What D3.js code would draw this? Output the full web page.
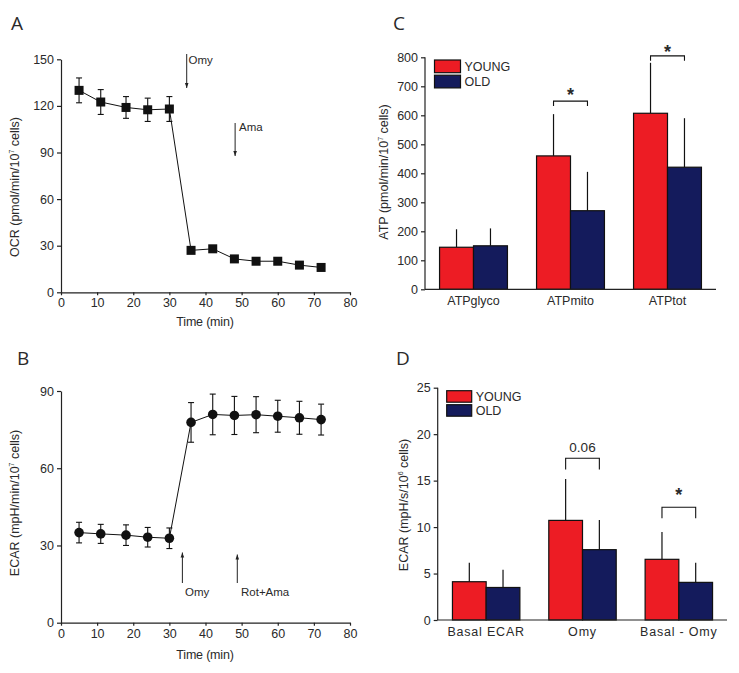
<!DOCTYPE html>
<html><head><meta charset="utf-8">
<script src="https://cdn.jsdelivr.net/npm/d3@7"></script>
<style>
body{margin:0;background:#fff}
</style></head>
<body><svg id="c" width="739" height="673"></svg>
<script>
// ---- data ----
const timePts = [5, 11, 18, 24, 30, 36, 42, 48, 54, 60, 66, 72];
const ocr = [130, 122.5, 119, 117.5, 118, 27, 28, 21.5, 20, 20, 17.5, 16];
const ocrErr = [8, 8, 7, 7.5, 8, 1.5, 1.5, 1.5, 1.5, 1.5, 1.5, 1.5];
const ecar = [35, 34.5, 34, 33.2, 32.8, 77.8, 80.9, 80.5, 80.8, 80.2, 79.6, 78.9];
const ecarErr = [4, 3.7, 4, 3.8, 4, 7.7, 7.9, 7.4, 7, 6.2, 6.4, 6];
const timeTicks = [0, 10, 20, 30, 40, 50, 60, 70, 80];
const ocrTicks = [0, 30, 60, 90, 120, 150];
const ecarTicks = [0, 30, 60, 90];

const atpCats = ["ATPglyco", "ATPmito", "ATPtot"];
const atpYoung = [145, 460, 607];
const atpOld = [150, 271, 421];
const atpYoungErr = [62, 144, 174];
const atpOldErr = [60, 134, 169];
const atpTicks = [0, 100, 200, 300, 400, 500, 600, 700, 800];

const ecarCats = ["Basal ECAR", "Omy", "Basal - Omy"];
const ecarYoung = [4.12, 10.72, 6.53];
const ecarOld = [3.5, 7.57, 4.05];
const ecarYoungErr = [2.05, 4.45, 2.94];
const ecarOldErr = [1.9, 3.2, 2.1];
const ecarBarTicks = [0, 5, 10, 15, 20, 25];

const groups = ["YOUNG", "OLD"];
const colors = ["#ED1C24", "#141B5C"];

const FONT = "'Liberation Sans', Arial, Helvetica, sans-serif";
const svg = d3.select("#c");

function styleAxis(g, fs) {
  g.attr("font-family", FONT);
  g.selectAll("path,line").attr("stroke", "#222").attr("stroke-width", 1.2);
  g.selectAll("text").style("font-size", fs + "px").attr("fill", "#333");
}

function ylabel(x, y, main, sup, rest) {
  const t = svg.append("text").attr("transform", `translate(${x},${y}) rotate(-90)`)
    .attr("text-anchor", "middle").style("font-size", "12.5px");
  t.append("tspan").text(main);
  t.append("tspan").text(sup).attr("dy", -5).style("font-size", "7px");
  t.append("tspan").text(rest).attr("dy", 5);
}

// ---------- Panel A ----------
const xA = d3.scaleLinear().domain([0, 80]).range([61, 350]);
const yA = d3.scaleLinear().domain([0, 150]).range([292.3, 59.3]);
svg.append("g").attr("transform", "translate(0,292.3)")
  .call(d3.axisBottom(xA).tickValues(timeTicks).tickSize(3).tickSizeOuter(0).tickPadding(3))
  .call(g => styleAxis(g, 12.5));
svg.append("g").attr("transform", "translate(61,0)")
  .call(d3.axisLeft(yA).tickValues(ocrTicks).tickSize(4).tickSizeOuter(0).tickPadding(3))
  .call(g => styleAxis(g, 12.5));
svg.append("text").attr("class", "letter").attr("x", 11).attr("y", 30).text("A");
ylabel(19, 187, "OCR (pmol/min/10", "7", " cells)");
svg.append("text").attr("x", 205).attr("y", 326).attr("text-anchor", "middle")
  .style("font-size", "12.5px").style("letter-spacing", "-0.2px").text("Time (min)");

const lineA = d3.line().x((d, i) => xA(timePts[i])).y(d => yA(d));
svg.append("path").datum(ocr).attr("d", lineA).attr("fill", "none").attr("stroke", "#111").attr("stroke-width", 1);
const eA = svg.append("g").attr("stroke", "#111").attr("stroke-width", 1.1);
ocr.forEach((v, i) => {
  const x = xA(timePts[i]);
  eA.append("line").attr("x1", x).attr("x2", x).attr("y1", yA(v - ocrErr[i])).attr("y2", yA(v + ocrErr[i]));
  eA.append("line").attr("x1", x - 3).attr("x2", x + 3).attr("y1", yA(v - ocrErr[i])).attr("y2", yA(v - ocrErr[i]));
  eA.append("line").attr("x1", x - 3).attr("x2", x + 3).attr("y1", yA(v + ocrErr[i])).attr("y2", yA(v + ocrErr[i]));
});
svg.append("g").selectAll("rect").data(ocr).join("rect")
  .attr("x", (d, i) => xA(timePts[i]) - 4.5).attr("y", d => yA(d) - 4.5)
  .attr("width", 9).attr("height", 9).attr("fill", "#111");

// arrows
function arrow(x, y1, y2) {
  svg.append("line").attr("x1", x).attr("x2", x).attr("y1", y1).attr("y2", y2).attr("stroke", "#222").attr("stroke-width", 1);
  const dir = y2 > y1 ? 1 : -1;
  svg.append("path").attr("d", `M${x - 1.8},${y2 - dir * 5}L${x + 1.8},${y2 - dir * 5}L${x},${y2}Z`).attr("fill", "#222");
}
arrow(xA(34.8), 54, 88);
svg.append("text").attr("x", 188.5).attr("y", 64).style("font-size", "11.5px").text("Omy");
arrow(xA(48.2), 123, 156);
svg.append("text").attr("x", 239).attr("y", 131).style("font-size", "11.5px").text("Ama");

// ---------- Panel B ----------
const xB = d3.scaleLinear().domain([0, 80]).range([61, 350]);
const yB = d3.scaleLinear().domain([0, 90]).range([622.7, 391]);
svg.append("g").attr("transform", "translate(0,622.7)")
  .call(d3.axisBottom(xB).tickValues(timeTicks).tickSize(3).tickSizeOuter(0).tickPadding(3))
  .call(g => styleAxis(g, 12.5));
svg.append("g").attr("transform", "translate(61,0)")
  .call(d3.axisLeft(yB).tickValues(ecarTicks).tickSize(4).tickSizeOuter(0).tickPadding(3))
  .call(g => styleAxis(g, 12.5));
svg.append("text").attr("class", "letter").attr("x", 17).attr("y", 365).text("B");
ylabel(19, 503, "ECAR (mpH/min/10", "7", " cells)");
svg.append("text").attr("x", 205).attr("y", 659).attr("text-anchor", "middle")
  .style("font-size", "12.5px").style("letter-spacing", "-0.2px").text("Time (min)");

const lineB = d3.line().x((d, i) => xB(timePts[i])).y(d => yB(d));
svg.append("path").datum(ecar).attr("d", lineB).attr("fill", "none").attr("stroke", "#111").attr("stroke-width", 1);
const eB = svg.append("g").attr("stroke", "#111").attr("stroke-width", 1.1);
ecar.forEach((v, i) => {
  const x = xB(timePts[i]);
  eB.append("line").attr("x1", x).attr("x2", x).attr("y1", yB(v - ecarErr[i])).attr("y2", yB(v + ecarErr[i]));
  eB.append("line").attr("x1", x - 3).attr("x2", x + 3).attr("y1", yB(v - ecarErr[i])).attr("y2", yB(v - ecarErr[i]));
  eB.append("line").attr("x1", x - 3).attr("x2", x + 3).attr("y1", yB(v + ecarErr[i])).attr("y2", yB(v + ecarErr[i]));
});
svg.append("g").selectAll("circle").data(ecar).join("circle")
  .attr("cx", (d, i) => xB(timePts[i])).attr("cy", d => yB(d)).attr("r", 4.8).attr("fill", "#111");

arrow(xB(33.6), 583, 552.5);
svg.append("text").attr("x", 185).attr("y", 596).style("font-size", "11.5px").text("Omy");
arrow(xB(48.8), 583, 554.5);
svg.append("text").attr("x", 241).attr("y", 596).style("font-size", "11.5px").text("Rot+Ama");

// ---------- bar panels ----------
function barPanel(cfg) {
  const x = d3.scaleBand().domain(cfg.cats).range(cfg.xr).paddingInner(0.3).paddingOuter(0.15);
  const x1 = d3.scaleBand().domain(groups).range([0, x.bandwidth()]);
  const y = d3.scaleLinear().domain(cfg.domain).range(cfg.yr);
  const series = [cfg.young, cfg.old], errs = [cfg.youngErr, cfg.oldErr];
  const eg = svg.append("g").attr("stroke", "#111").attr("stroke-width", 1.2);
  series.forEach((s, k) => s.forEach((v, i) => {
    const cx = x(cfg.cats[i]) + x1(groups[k]) + x1.bandwidth() / 2;
    eg.append("line").attr("x1", cx).attr("x2", cx).attr("y1", y(v)).attr("y2", y(v + errs[k][i]));
  }));
  series.forEach((s, k) => {
    svg.append("g").selectAll("rect").data(s).join("rect")
      .attr("x", (d, i) => x(cfg.cats[i]) + x1(groups[k]))
      .attr("y", d => y(d)).attr("width", x1.bandwidth()).attr("height", d => y(0) - y(d))
      .attr("fill", colors[k]).attr("stroke", "#111").attr("stroke-width", 1.2);
  });
  svg.append("g").attr("transform", `translate(0,${cfg.yr[0]})`)
    .call(d3.axisBottom(x).tickSize(0).tickSizeOuter(0).tickPadding(7))
    .call(g => { styleAxis(g, 12.5); g.select(".domain").attr("d", `M${cfg.axisX[0]},0H${cfg.axisX[1]}`);
      g.selectAll("text").style("letter-spacing", cfg.ls); });
  svg.append("g").attr("transform", `translate(${cfg.axisX[0]},0)`)
    .call(d3.axisLeft(y).tickValues(cfg.ticks).tickSize(4).tickSizeOuter(0).tickPadding(3))
    .call(g => { styleAxis(g, 12.5); g.select(".domain").attr("d", `M0,${cfg.yr[0]}V${y(cfg.ticks[cfg.ticks.length - 1])}`); });
  groups.forEach((gname, k) => {
    svg.append("rect").attr("x", cfg.leg[0]).attr("y", cfg.leg[1] + k * cfg.leg[3])
      .attr("width", cfg.leg[2]).attr("height", cfg.leg[3] - 2.5)
      .attr("fill", colors[k]).attr("stroke", "#111").attr("stroke-width", 1.2);
    svg.append("text").attr("x", cfg.leg[0] + cfg.leg[2] + 4).attr("y", cfg.leg[1] + k * cfg.leg[3] + cfg.leg[3] / 2 + 3)
      .style("font-size", "12.5px").text(gname);
  });
  cfg.sig.forEach(s => {
    const xa = x(s.cat) + x1("YOUNG") + x1.bandwidth() / 2;
    const xb = x(s.cat) + x1("OLD") + x1.bandwidth() / 2;
    svg.append("path").attr("d", `M${xa},${y(s.low)}V${y(s.top)}H${xb}V${y(s.low)}`)
      .attr("fill", "none").attr("stroke", "#111").attr("stroke-width", 1.1);
    const t = svg.append("text").attr("x", (xa + xb) / 2).attr("text-anchor", "middle").text(s.label);
    if (s.label === "*") t.attr("y", y(s.lab) + 9).style("font-size", "18px").style("font-weight", "bold");
    else t.attr("y", y(s.lab) + 5).style("font-size", "13.5px");
  });
  return y;
}

barPanel({
  cats: atpCats, young: atpYoung, old: atpOld, youngErr: atpYoungErr, oldErr: atpOldErr,
  domain: [0, 800], yr: [289.3, 57.3], xr: [425, 716], axisX: [425, 716], ticks: atpTicks, ls: "0px",
  leg: [434.5, 60, 26, 15.2],
  sig: [{cat: "ATPmito", top: 649, low: 632, lab: 679, label: "*"},
        {cat: "ATPtot", top: 805, low: 788, lab: 829, label: "*"}]
});
svg.append("text").attr("class", "letter").attr("x", 393).attr("y", 30).text("C");
ylabel(388, 172, "ATP (pmol/min/10", "7", " cells)");

barPanel({
  cats: ecarCats, young: ecarYoung, old: ecarOld, youngErr: ecarYoungErr, oldErr: ecarOldErr,
  domain: [0, 25], yr: [620, 387.7], xr: [438, 727], axisX: [437.7, 727], ticks: ecarBarTicks, ls: "0.8px",
  leg: [446.7, 390.7, 25, 14],
  sig: [{cat: "Omy", top: 17.4, low: 16.2, lab: 18.6, label: "0.06"},
        {cat: "Basal - Omy", top: 12.13, low: 10.95, lab: 13.8, label: "*"}]
});
svg.append("text").attr("class", "letter").attr("x", 396).attr("y", 365).text("D");
ylabel(408, 505, "ECAR (mpH/s/10", "6", " cells)");

// fonts
svg.selectAll("text").style("font-family", FONT).attr("fill", "#2a2a2a");
svg.selectAll("text.letter").style("font-family", "'Open Sans', sans-serif").style("font-size", "19px");
</script></body></html>
